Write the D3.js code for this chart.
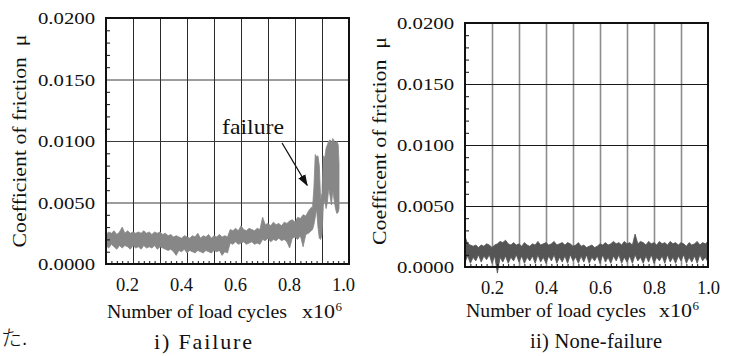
<!DOCTYPE html>
<html><head><meta charset="utf-8">
<script src="https://cdn.jsdelivr.net/npm/d3@7"></script>
<style>html,body{margin:0;padding:0;background:#fff;overflow:hidden}text{font-family:"Liberation Serif","Times New Roman",serif;fill:#111}</style>
</head><body>
<svg id="c" width="729" height="356"></svg>
<script>
// ---------- data ----------
const yMajorTicks = [0.0000, 0.0050, 0.0100, 0.0150, 0.0200];
const yGridValues = [0.0050, 0.0100, 0.0150];
const yMinorTicks = [0.001,0.002,0.003,0.004,0.006,0.007,0.008,0.009,0.011,0.012,0.013,0.014,0.016,0.017,0.018,0.019];
const xTickLabels = [0.2, 0.4, 0.6, 0.8, 1.0];
const xGridValues = [0.2,0.3,0.4,0.5,0.6,0.7,0.8,0.9];
const xMinorTicks = [0.12,0.14,0.16,0.18,0.22,0.24,0.26,0.28,0.32,0.34,0.36,0.38,0.42,0.44,0.46,0.48,0.52,0.54,0.56,0.58,0.62,0.64,0.66,0.68,0.72,0.74,0.76,0.78,0.82,0.84,0.86,0.88,0.92,0.94,0.96,0.98];

// i) Failure : friction coefficient band (low / high envelope) vs cycles (x10^6)
const leftCycles = [0.10,0.11,0.12,0.13,0.14,0.15,0.16,0.17,0.18,0.19,0.20,0.21,0.22,0.23,0.24,0.25,0.26,0.27,0.28,0.29,
0.30,0.31,0.32,0.33,0.34,0.35,0.36,0.37,0.38,0.39,0.40,0.41,0.42,0.43,0.44,0.45,0.46,0.47,0.48,0.49,
0.50,0.51,0.52,0.53,0.54,0.55,0.56,0.57,0.58,0.59,0.60,0.61,0.62,0.63,0.64,0.65,0.66,0.67,0.68,0.69,
0.70,0.71,0.72,0.73,0.74,0.75,0.76,0.77,0.78,0.79,0.80,0.81,0.82,0.83,0.84,0.85,0.86,
0.865,0.870,0.875,0.880,0.885,0.890,0.895,0.900,0.905,0.910,0.915,0.920,0.925,0.930,0.935,0.940,0.945,0.950,0.955,0.960,0.963];
const leftLow = [0.0015,0.0013,0.0016,0.0014,0.0012,0.0015,0.0013,0.0015,0.0014,0.0012,0.0015,0.0013,0.0014,0.0012,0.0015,0.0013,0.0014,0.0013,0.0015,0.0012,
0.0014,0.0013,0.0012,0.0011,0.0012,0.0010,0.0007,0.0011,0.0010,0.0012,0.0009,0.0011,0.0010,0.0009,0.0011,0.0010,0.0009,0.0011,0.0010,0.0009,
0.0011,0.0010,0.0011,0.0007,0.0010,0.0009,0.0017,0.0016,0.0018,0.0016,0.0017,0.0018,0.0016,0.0017,0.0018,0.0016,0.0017,0.0016,0.0020,0.0019,
0.0021,0.0018,0.0020,0.0019,0.0021,0.0019,0.0020,0.0018,0.0013,0.0021,0.0022,0.0020,0.0023,0.0014,0.0024,0.0025,0.0027,
0.0028,0.0032,0.0038,0.0045,0.0030,0.0021,0.0020,0.0024,0.0048,0.0052,0.0045,0.0050,0.0062,0.0055,0.0048,0.0060,0.0052,0.0045,0.0041,0.0042,0.0045];
const leftHigh = [0.0024,0.0026,0.0025,0.0027,0.0024,0.0026,0.0030,0.0025,0.0027,0.0025,0.0026,0.0025,0.0026,0.0025,0.0027,0.0025,0.0026,0.0024,0.0026,0.0025,
0.0026,0.0024,0.0025,0.0023,0.0024,0.0022,0.0023,0.0022,0.0021,0.0023,0.0022,0.0021,0.0023,0.0022,0.0025,0.0021,0.0023,0.0022,0.0024,0.0021,
0.0023,0.0022,0.0024,0.0022,0.0023,0.0022,0.0028,0.0027,0.0029,0.0027,0.0031,0.0028,0.0027,0.0029,0.0028,0.0027,0.0029,0.0028,0.0038,0.0032,
0.0033,0.0031,0.0034,0.0032,0.0033,0.0031,0.0034,0.0033,0.0035,0.0036,0.0034,0.0038,0.0037,0.0040,0.0039,0.0043,0.0046,
0.0046,0.0062,0.0089,0.0087,0.0088,0.0080,0.0052,0.0058,0.0088,0.0086,0.0094,0.0097,0.0100,0.0101,0.0098,0.0102,0.0100,0.0099,0.0100,0.0097,0.0082];

// ii) None-failure
const rightCycles = [0.10,0.11,0.12,0.13,0.14,0.15,0.16,0.17,0.18,0.19,0.20,0.21,0.22,0.23,0.24,0.25,0.26,0.27,0.28,0.29,
0.30,0.31,0.32,0.33,0.34,0.35,0.36,0.37,0.38,0.39,0.40,0.41,0.42,0.43,0.44,0.45,0.46,0.47,0.48,0.49,
0.50,0.51,0.52,0.53,0.54,0.55,0.56,0.57,0.58,0.59,0.60,0.61,0.62,0.63,0.64,0.65,0.66,0.67,0.68,0.69,
0.70,0.71,0.72,0.73,0.74,0.75,0.76,0.77,0.78,0.79,0.80,0.81,0.82,0.83,0.84,0.85,0.86,0.87,0.88,0.89,
0.90,0.91,0.92,0.93,0.94,0.95,0.96,0.97,0.98,0.99,1.00];
const rightLow = [0.0004,0.0009,0.0003,0.0008,0.0005,0.0010,0.0004,0.0009,0.0006,0.0010,0.0003,0.0009,-0.0005,0.0008,0.0004,0.0009,0.0003,0.0008,0.0005,0.0010,
0.0004,0.0009,0.0003,0.0008,0.0005,0.0009,0.0003,0.0010,0.0004,0.0008,0.0003,0.0009,0.0005,0.0010,0.0003,0.0008,0.0004,0.0009,0.0003,0.0010,
0.0005,0.0008,0.0003,0.0009,0.0004,0.0010,0.0003,0.0008,0.0005,0.0009,0.0003,0.0010,0.0004,0.0008,0.0003,0.0009,0.0005,0.0010,0.0003,0.0008,
0.0004,0.0009,0.0003,0.0010,0.0005,0.0008,0.0003,0.0009,0.0004,0.0010,0.0003,0.0008,0.0005,0.0009,0.0003,0.0010,0.0004,0.0008,0.0003,0.0009,
0.0005,0.0010,0.0003,0.0008,0.0004,0.0009,0.0003,0.0010,0.0005,0.0008,0.0004];
const rightHigh = [0.0025,0.0019,0.0018,0.0017,0.0018,0.0016,0.0018,0.0017,0.0019,0.0018,0.0016,0.0018,0.0019,0.0021,0.0020,0.0022,0.0019,0.0018,0.0020,0.0018,
0.0019,0.0017,0.0020,0.0018,0.0017,0.0019,0.0018,0.0021,0.0018,0.0019,0.0020,0.0018,0.0019,0.0021,0.0018,0.0019,0.0020,0.0018,0.0020,0.0019,
0.0017,0.0018,0.0020,0.0017,0.0018,0.0016,0.0017,0.0018,0.0016,0.0017,0.0019,0.0018,0.0020,0.0018,0.0019,0.0021,0.0019,0.0020,0.0018,0.0021,
0.0019,0.0020,0.0018,0.0027,0.0019,0.0021,0.0020,0.0018,0.0021,0.0019,0.0020,0.0018,0.0021,0.0019,0.0020,0.0018,0.0021,0.0019,0.0020,0.0018,
0.0020,0.0019,0.0017,0.0020,0.0018,0.0019,0.0021,0.0018,0.0020,0.0019,0.0021];

// ---------- drawing ----------
const svg = d3.select("#c");

function panel(cfg) {
  const x = d3.scaleLinear().domain([0.1, 1.0]).range([cfg.x0, cfg.x1]);
  const y = d3.scaleLinear().domain([0, 0.02]).range([cfg.y1, cfg.y0]);
  const g = svg.append("g");

  // vertical grid
  g.append("g").attr("transform", `translate(0,${cfg.y1})`)
    .call(d3.axisBottom(x).tickValues(xGridValues).tickSize(-(cfg.y1 - cfg.y0)).tickFormat(""))
    .call(s => s.select(".domain").remove())
    .call(s => s.selectAll("line").attr("stroke", cfg.vGrid).attr("stroke-width", cfg.vGridW));
  // horizontal grid
  g.append("g").attr("transform", `translate(${cfg.x0},0)`)
    .call(d3.axisLeft(y).tickValues(yGridValues).tickSize(-(cfg.x1 - cfg.x0)).tickFormat(""))
    .call(s => s.select(".domain").remove())
    .call(s => s.selectAll("line").attr("stroke", cfg.hGrid).attr("stroke-width", 1));

  // data band
  const area = d3.area()
    .x((d, i) => x(cfg.cx[i]))
    .y0((d, i) => y(cfg.lo[i]))
    .y1((d, i) => y(cfg.hi[i]));
  g.append("path").datum(cfg.cx).attr("d", area)
    .attr("fill", cfg.color).attr("stroke", cfg.color).attr("stroke-width", 0.8);

  // minor ticks (inward)
  g.append("g").attr("transform", `translate(${cfg.x0},0)`)
    .call(d3.axisLeft(y).tickValues(yMinorTicks).tickSize(-4).tickFormat(""))
    .call(s => s.select(".domain").remove())
    .call(s => s.selectAll("line").attr("stroke", "#111").attr("stroke-width", 1));
  g.append("g").attr("transform", `translate(0,${cfg.y1})`)
    .call(d3.axisBottom(x).tickValues(xMinorTicks).tickSize(-3).tickFormat(""))
    .call(s => s.select(".domain").remove())
    .call(s => s.selectAll("line").attr("stroke", "#111").attr("stroke-width", 1));

  // frame
  g.append("rect").attr("x", cfg.x0).attr("y", cfg.y0)
    .attr("width", cfg.x1 - cfg.x0).attr("height", cfg.y1 - cfg.y0)
    .attr("fill", "none").attr("stroke", "#111").attr("stroke-width", 2);

  // y tick labels
  const ya = g.append("g").attr("transform", `translate(${cfg.x0 - 11},0)`)
    .call(d3.axisLeft(y).tickValues(yMajorTicks).tickSize(0).tickPadding(0).tickFormat(d3.format(".4f")));
  ya.select(".domain").remove();
  ya.selectAll("text").attr("font-size", 17)
    .attr("fill", "#111").attr("dy", "0.35em")
    .attr("textLength", 57).attr("lengthAdjust", "spacingAndGlyphs");

  // x tick labels
  const xa = g.append("g").attr("transform", `translate(0,${cfg.y1 + 27})`)
    .call(d3.axisBottom(x).tickValues(xTickLabels).tickSize(0).tickPadding(0).tickFormat(d3.format(".1f")));
  xa.select(".domain").remove();
  xa.selectAll("text").attr("font-size", 18.5)
    .attr("fill", "#111").attr("dy", 0).attr("dx", cfg.xLabDx);

  // axis titles
  g.append("text").attr("transform", `translate(${cfg.yTitleX},${cfg.yTitleY}) rotate(-90)`)
    .attr("text-anchor", "middle").attr("font-size", 19)
    .attr("textLength", cfg.yTitleLen).attr("lengthAdjust", "spacingAndGlyphs")
    .text(cfg.yTitle);
  g.append("text").attr("x", cfg.x0 + 1).attr("y", cfg.xTitleY).attr("font-size", 19.5)
    .attr("textLength", 180).attr("lengthAdjust", "spacingAndGlyphs")
    .text("Number of load cycles");
  g.append("text").attr("x", cfg.x10X).attr("y", cfg.xTitleY).attr("font-size", 19.5)
    .attr("textLength", 33).attr("lengthAdjust", "spacingAndGlyphs").text("x10");
  g.append("text").attr("x", cfg.x10X + 33.5).attr("y", cfg.xTitleY - 7).attr("font-size", 13).text("6");

  // caption
  g.append("text").attr("x", cfg.capX).attr("y", cfg.capY).attr("text-anchor", "middle")
    .attr("font-size", cfg.capSize).attr("textLength", cfg.capLen).attr("lengthAdjust", "spacing")
    .text(cfg.caption);
  return {x, y, g};
}

const L = panel({
  x0: 106, x1: 349, y0: 18, y1: 264,
  cx: leftCycles, lo: leftLow, hi: leftHigh, color: "#878787",
  vGrid: "#2a2a2a", vGridW: 1, hGrid: "#3a3a3a", xLabDx: -6,
  yTitle: "Coefficient of friction\u00a0\u00a0\u03bc", yTitleX: 26, yTitleY: 141, yTitleLen: 213,
  xTitleY: 318, x10X: 302, caption: "i) Failure", capX: 203, capY: 349, capLen: 98, capSize: 22
});
const R = panel({
  x0: 465, x1: 708, y0: 23, y1: 267,
  cx: rightCycles, lo: rightLow, hi: rightHigh, color: "#555555",
  vGrid: "#8c8c8c", vGridW: 1.6, hGrid: "#1a1a1a", xLabDx: 0,
  yTitle: "Coefficent of friction\u00a0\u00a0\u03bc", yTitleX: 386, yTitleY: 141, yTitleLen: 208,
  xTitleY: 317, x10X: 659, caption: "ii) None-failure", capX: 596, capY: 348, capLen: 132, capSize: 20.5
});

// failure annotation
const defs = svg.append("defs");
defs.append("marker").attr("id", "ah").attr("viewBox", "0 0 10 10").attr("refX", 9).attr("refY", 5)
  .attr("markerWidth", 9).attr("markerHeight", 9).attr("orient", "auto")
  .append("path").attr("d", "M0,1.5 L10,5 L0,8.5 Z").attr("fill", "#111");
L.g.append("text").attr("x", 253).attr("y", 134).attr("text-anchor", "middle")
  .attr("font-size", 21).attr("textLength", 62).attr("lengthAdjust", "spacingAndGlyphs").text("failure");
L.g.append("line").attr("x1", L.x(0.752)).attr("y1", L.y(0.00984))
  .attr("x2", L.x(0.845)).attr("y2", L.y(0.0064))
  .attr("stroke", "#111").attr("stroke-width", 1.3).attr("marker-end", "url(#ah)");

// stray Japanese text from the page
svg.append("text").attr("x", 1).attr("y", 345).attr("font-size", 21)
  .style("font-family", "'Noto Sans CJK JP'").attr("font-weight", 300).text("た.");
</script>
</body></html>
